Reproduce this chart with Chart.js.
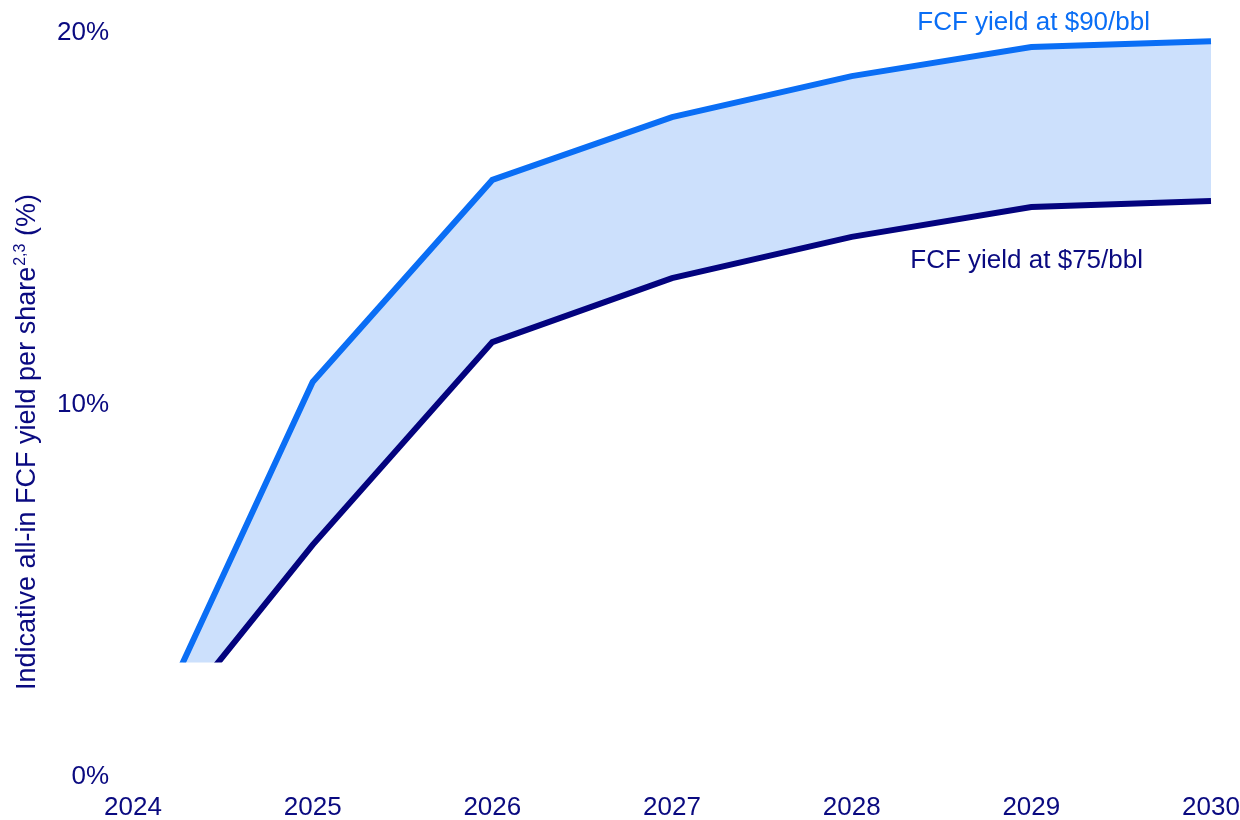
<!DOCTYPE html>
<html>
<head>
<meta charset="utf-8">
<script src="https://cdn.jsdelivr.net/npm/chart.js@4/dist/chart.umd.min.js"></script>
<style>
html,body{margin:0;padding:0;background:#fff;}
#wrap{width:1240px;height:820px;}
</style>
</head>
<body>
<div id="wrap"><canvas id="c" width="1240" height="820"></canvas></div>
<script>
const years = ['2024','2025','2026','2027','2028','2029','2030'];
const yield90 = [0.1, 10.54, 15.97, 17.66, 18.76, 19.54, 19.70];
const yield75 = [0.15, 6.16, 11.61, 13.33, 14.44, 15.24, 15.40];
const yTicks = [0, 10, 20];
const label90 = 'FCF yield at $90/bbl';
const label75 = 'FCF yield at $75/bbl';
const axisTitleMain = 'Indicative all-in FCF yield per share';
const axisTitleSup = '2,3';
const axisTitleEnd = ' (%)';
const visibleFloor = 3;

const FONT = '"Liberation Sans", Arial, sans-serif';
const NAVY = '#0A0A80';
const LIGHT = '#0A6EF5';
const DARK = '#03037E';
const FILL = '#CCE0FC';

const clipPlugin = {
  id: 'floorClip',
  beforeDatasetsDraw(chart) {
    const ctx = chart.ctx;
    const yb = chart.scales.y.getPixelForValue(visibleFloor);
    ctx.save();
    ctx.beginPath();
    ctx.rect(0, 0, chart.width, yb);
    ctx.clip();
  },
  afterDatasetsDraw(chart) {
    chart.ctx.restore();
  }
};

const decorPlugin = {
  id: 'decor',
  beforeDatasetsDraw(chart) {
    const ctx = chart.ctx;
    const xs = chart.scales.x, ys = chart.scales.y;
    const y0 = ys.getPixelForValue(0);
    ctx.save();
    ctx.strokeStyle = '#C8C8F8';
    ctx.lineWidth = 2;
    ctx.beginPath();
    ctx.moveTo(xs.getPixelForDecimal(0.016), y0);
    ctx.lineTo(xs.getPixelForDecimal(1), y0);
    ctx.stroke();
    ctx.restore();
  },
  afterDraw(chart) {
    const ctx = chart.ctx;
    const xs = chart.scales.x, ys = chart.scales.y;
    const area = chart.chartArea;
    ctx.save();
    ctx.font = '26px ' + FONT;
    ctx.textBaseline = 'alphabetic';
    // tick labels
    ctx.fillStyle = NAVY;
    ctx.textAlign = 'right';
    ys.ticks.forEach(t => {
      ctx.fillText(t.value + '%', area.left - 24, ys.getPixelForValue(t.value) + 9.5);
    });
    ctx.textAlign = 'center';
    years.forEach((lab, i) => {
      ctx.fillText(lab, xs.getPixelForValue(i), area.bottom + 41);
    });
    // series labels
    ctx.textAlign = 'right';
    ctx.fillStyle = LIGHT;
    ctx.fillText(label90, area.right - 61, ys.getPixelForValue(20));
    ctx.fillStyle = NAVY;
    ctx.fillText(label75, area.right - 68, ys.getPixelForValue(13.6));
    // rotated axis title with superscript
    ctx.translate(35, 690);
    ctx.rotate(-Math.PI / 2);
    ctx.textAlign = 'left';
    ctx.fillStyle = NAVY;
    ctx.font = '27px ' + FONT;
    let x = 0;
    ctx.fillText(axisTitleMain, x, 0);
    x += ctx.measureText(axisTitleMain).width;
    ctx.font = '16px ' + FONT;
    ctx.fillText(axisTitleSup, x + 1, -10);
    x += ctx.measureText(axisTitleSup).width + 1;
    ctx.font = '27px ' + FONT;
    ctx.fillText(axisTitleEnd, x, 0);
    ctx.restore();
  }
};

new Chart(document.getElementById('c'), {
  type: 'line',
  data: {
    labels: years,
    datasets: [
      {
        label: label90,
        data: yield90,
        borderColor: LIGHT,
        backgroundColor: FILL,
        borderWidth: 6,
        fill: '+1',
        order: 2,
        pointRadius: 0,
        tension: 0,
        clip: false,
        borderJoinStyle: 'miter',
        borderCapStyle: 'butt'
      },
      {
        label: label75,
        data: yield75,
        borderColor: DARK,
        backgroundColor: DARK,
        borderWidth: 6,
        fill: false,
        order: 1,
        pointRadius: 0,
        tension: 0,
        clip: false,
        borderJoinStyle: 'miter',
        borderCapStyle: 'butt'
      }
    ]
  },
  options: {
    responsive: false,
    animation: false,
    layout: { padding: { top: 30, right: 29, left: 0, bottom: 0 } },
    plugins: { legend: { display: false }, tooltip: { enabled: false }, title: { display: false } },
    scales: {
      x: {
        type: 'category',
        offset: false,
        grid: { display: false, drawTicks: false },
        border: { display: false },
        ticks: { display: false },
        afterFit(s) { s.height = 46; }
      },
      y: {
        min: 0,
        max: 20,
        afterBuildTicks(s) { s.ticks = yTicks.map(v => ({ value: v })); },
        grid: { display: false, drawTicks: false },
        border: { display: false },
        ticks: { display: false },
        afterFit(s) { s.width = 133; }
      }
    }
  },
  plugins: [clipPlugin, decorPlugin]
});
</script>
</body>
</html>
